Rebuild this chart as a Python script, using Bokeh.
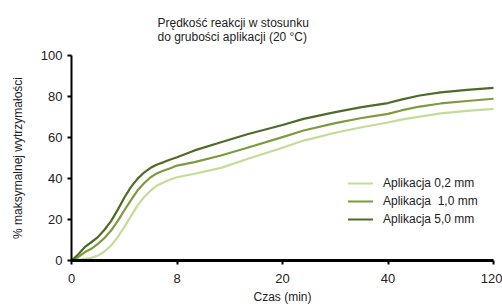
import numpy as np
from bokeh.plotting import figure
from bokeh.models import Range1d, FixedTicker, Legend, LegendItem, Title
from bokeh.embed import file_html
from bokeh.resources import INLINE

# time in minutes
minutes = [0, 0.5, 1, 1.5, 2, 2.5, 3, 3.5, 4, 4.5, 5, 5.5, 6, 6.5, 7, 7.5, 8,
           10, 13, 16, 20, 24, 30, 35, 40, 50, 64, 80, 100, 120]
app_02 = [0, 0.3, 0.8, 1.3, 2.4, 4.4, 7.3, 11.4, 16.3, 21.5, 26.8, 30.9, 34.1, 36.6, 38.2, 39.5, 40.6,
          42.3, 45.2, 49.5, 55.0, 58.5, 62.3, 65.0, 67.3, 68.7, 70.2, 71.8, 73.0, 74.0]
app_10 = [0, 1.6, 4.0, 5.7, 8.1, 11.0, 14.6, 19.2, 24.4, 29.3, 34.1, 37.7, 40.6, 42.6, 43.9, 45.0, 46.3,
          48.0, 51.2, 55.0, 60.2, 63.4, 67.0, 69.5, 71.5, 73.2, 75.1, 76.6, 77.8, 78.9]
app_50 = [0, 2.9, 6.5, 8.9, 11.4, 15.0, 19.2, 24.7, 30.6, 35.8, 39.8, 42.9, 45.2, 46.8, 48.0, 49.3, 50.4,
          53.7, 57.7, 61.6, 66.1, 69.1, 72.4, 74.8, 76.8, 78.5, 80.5, 82.0, 83.2, 84.2]

series_labels = ["Aplikacja 0,2 mm", "Aplikacja  1,0 mm", "Aplikacja 5,0 mm"]
series_colors = ["#c3dc98", "#7b9c3c", "#4e6b28"]

x_breaks = [0, 8, 20, 40, 120]
x_tick_labels = ["0", "8", "20", "40", "120"]
y_ticks = [0, 20, 40, 60, 80, 100]

title_lines = ["Prędkość reakcji w stosunku", "do grubości aplikacji (20 °C)"]

FONT = "'Liberation Sans', Arial, sans-serif"

# piecewise axis: each tick interval gets equal width
pos = np.interp(minutes, x_breaks, list(range(len(x_breaks))))

p = figure(width=502, height=307, output_backend="svg", toolbar_location=None,
           x_range=Range1d(0, len(x_breaks) - 1), y_range=Range1d(0, 100),
           min_border_left=71, min_border_right=9, min_border_bottom=47, min_border_top=55)
p.outline_line_color = None
p.xgrid.visible = False
p.ygrid.visible = False

p.title = None
p.add_layout(Title(text="\n".join(title_lines), align="left", offset=86, standoff=20,
                   vertical_align="top",
                   text_line_height=1.0, text_font=FONT, text_font_size="12px",
                   text_font_style="normal", text_color="#222222"), "above")

renderers = []
for vals, col in zip([app_02, app_10, app_50], series_colors):
    r = p.line(pos, vals, line_color=col, line_width=2.2, line_join="round", line_cap="round")
    renderers.append(r)

legend = Legend(items=[LegendItem(label=l, renderers=[r]) for l, r in zip(series_labels, renderers)],
                location=(277, 34), padding=0, spacing=4, glyph_width=25, glyph_height=14,
                label_height=14, label_standoff=10, border_line_color=None,
                background_fill_alpha=0, label_text_font=FONT, label_text_font_size="12px",
                label_text_color="#222222")
p.add_layout(legend, "center")

p.xaxis.ticker = FixedTicker(ticks=list(range(len(x_breaks))))
p.xaxis.major_label_overrides = {i: t for i, t in enumerate(x_tick_labels)}
p.yaxis.ticker = FixedTicker(ticks=y_ticks)
p.xaxis.axis_label = "Czas (min)"
p.yaxis.axis_label = "% maksymalnej wytrzymałości"

for ax in (p.xaxis[0], p.yaxis[0]):
    ax.axis_line_color = "black"
    ax.major_tick_line_color = "black"
    ax.major_tick_line_width = 2
    ax.major_tick_in = 0
    ax.major_tick_out = 4
    ax.minor_tick_line_color = None
    ax.major_label_text_font = FONT
    ax.major_label_text_font_size = "13px"
    ax.major_label_text_color = "#222222"
    ax.axis_label_text_font = FONT
    ax.axis_label_text_font_size = "12px"
    ax.axis_label_text_font_style = "normal"
    ax.axis_label_text_color = "#222222"
p.xaxis.axis_line_width = 3
p.yaxis.axis_line_width = 2
p.xaxis.major_label_standoff = 9
p.yaxis.major_label_standoff = 5
p.xaxis.axis_label_standoff = 4
p.yaxis.axis_label_standoff = 13

open("out.html", "w").write(file_html(p, INLINE))
